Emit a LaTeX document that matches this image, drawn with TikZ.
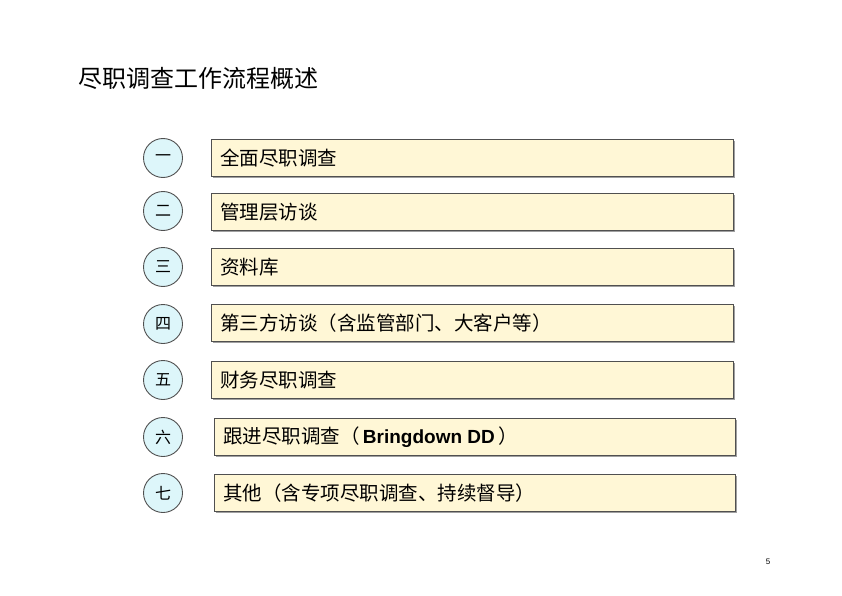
\documentclass[tikz,border=0pt]{standalone}
\usepackage{fontspec}
\setmainfont{Liberation Sans}
\newfontfamily\cjk{Noto Sans CJK SC}
\definecolor{boxfill}{HTML}{FFF7D6}
\definecolor{boxline}{HTML}{505050}
\definecolor{shadowc}{HTML}{A0A0A0}
\definecolor{circfill}{HTML}{DDF6FA}
\begin{document}
\begin{tikzpicture}[x=1pt,y=-1pt,
  itembox/.style={draw=boxline,line width=1pt,fill=boxfill,
    minimum height=37pt,inner sep=0pt,anchor=north west},
  itemtxt/.style={anchor=west,font=\cjk\fontsize{19.5}{22}\selectfont,inner sep=0pt},
  numcirc/.style={circle,draw=boxline,line width=0.9pt,fill=circfill,
    minimum size=39pt,inner sep=0pt,font=\cjk\fontsize{16}{18}\selectfont}]
\useasboundingbox (0,0) rectangle (842,596);
\fill[white] (0,0) rectangle (842,596);
\node[anchor=base west,inner sep=0pt,font=\cjk\fontsize{24}{28}\selectfont] (title) at (78,88) {尽职调查工作流程概述};
% boxes
\foreach \n/\x/\y/\w in {1/211/139/522,2/211/193/522,3/211/248/522,4/211/304/522,5/211/361/522,6/214/418/521,7/214/474/521}{
  \fill[shadowc] (\x+2,\y+2) rectangle (\x+\w+2,\y+39);
  \node[itembox,minimum width=\w pt] (b\n) at (\x,\y) {};
}
\node[itemtxt] (t1) at ([xshift=9pt]b1.west) {全面尽职调查};
\node[itemtxt] (t2) at ([xshift=9pt]b2.west) {管理层访谈};
\node[itemtxt] (t3) at ([xshift=9pt]b3.west) {资料库};
\node[itemtxt] (t4) at ([xshift=9pt]b4.west) {第三方访谈（含监管部门、大客户等）};
\node[itemtxt] (t5) at ([xshift=9pt]b5.west) {财务尽职调查};
\node[itemtxt] (t6) at ([xshift=9pt]b6.west) {跟进尽职调查（\,{\rmfamily\bfseries\fontsize{19}{22}\selectfont Bringdown DD}\,）};
\node[itemtxt] (t7) at ([xshift=9pt]b7.west) {其他（含专项尽职调查、持续督导）};
% circles
\node[numcirc] (c1) at (163,158) {一};
\node[numcirc] (c2) at (163,211) {二};
\node[numcirc] (c3) at (163,267) {三};
\node[numcirc] (c4) at (163,324) {四};
\node[numcirc] (c5) at (163,380) {五};
\node[numcirc] (c6) at (163,437) {六};
\node[numcirc] (c7) at (163,493) {七};
\node[anchor=base,inner sep=0pt,font=\fontsize{8}{10}\selectfont] (pg) at (768,564) {5};
\end{tikzpicture}
\end{document}
